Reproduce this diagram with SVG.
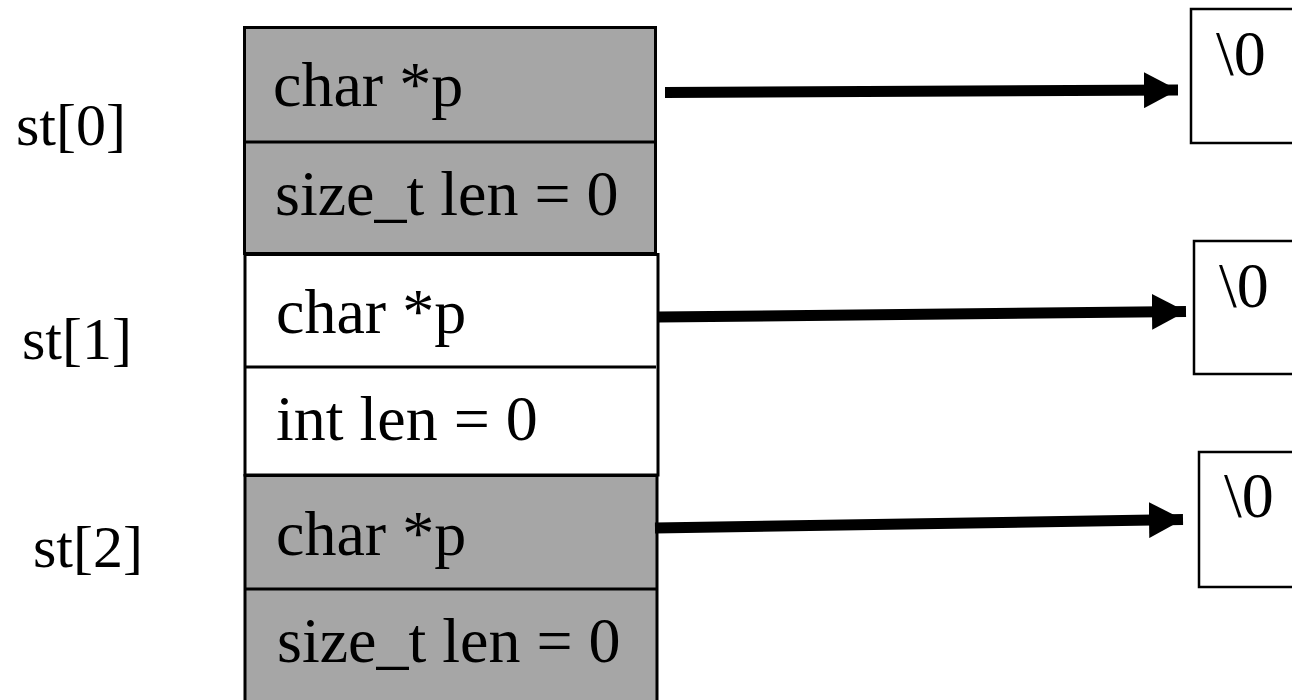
<svg xmlns="http://www.w3.org/2000/svg" width="1292" height="700" viewBox="0 0 1292 700">
<style>
.t{font-family:"Liberation Serif","Times New Roman",serif;fill:#000}
.f{font-size:64px}
.l{font-size:60px}
.g{fill:#a6a6a6;stroke:#000;stroke-width:3}
.w{fill:#fff;stroke:#000;stroke-width:3}
.d{stroke:#000;stroke-width:3;fill:none}
.b{fill:#fff;stroke:#000;stroke-width:2.5}
.a{stroke:#000;stroke-width:11;fill:none}
</style>
<defs>
<marker id="ah" markerUnits="userSpaceOnUse" markerWidth="36" markerHeight="36" refX="34" refY="17" orient="auto" viewBox="0 0 36 34" preserveAspectRatio="none">
<path d="M0,0 L34,17 L0,34 Z" fill="#000"/>
</marker>
</defs>
<rect width="1292" height="700" fill="#fff"/>
<g id="labels">
<text class="t l" x="16" y="145">st[0]</text>
<text class="t l" x="22" y="359">st[1]</text>
<text class="t l" x="33" y="567">st[2]</text>
</g>
<g id="st0">
<rect class="g" x="244.5" y="27.5" width="411" height="226"/>
<line class="d" x1="244.5" y1="142" x2="655.5" y2="142"/>
<text class="t f" x="273" y="106">char *p</text>
<text class="t f" x="275" y="215">size_t len = 0</text>
</g>
<g id="st1">
<rect class="w" x="245" y="254.5" width="413" height="220.5"/>
<line class="d" x1="245" y1="367" x2="656" y2="367"/>
<text class="t f" x="276" y="333">char *p</text>
<text class="t f" x="276" y="440">int len = 0</text>
</g>
<g id="st2">
<rect class="g" x="245" y="475.5" width="412" height="240"/>
<line class="d" x1="245" y1="589" x2="656" y2="589"/>
<text class="t f" x="276" y="555">char *p</text>
<text class="t f" x="277" y="662">size_t len = 0</text>
</g>
<g id="nul0">
<rect class="b" x="1191" y="9" width="110" height="134"/>
<text class="t f" x="1216" y="75">\0</text>
</g>
<g id="nul1">
<rect class="b" x="1194" y="241" width="110" height="133"/>
<text class="t f" x="1219" y="307">\0</text>
</g>
<g id="nul2">
<rect class="b" x="1199" y="452" width="110" height="135"/>
<text class="t f" x="1224" y="517">\0</text>
</g>
<g id="connectors">
<line class="a" x1="665" y1="92.5" x2="1178" y2="90" marker-end="url(#ah)"/>
<line class="a" x1="658" y1="317" x2="1186" y2="311.5" marker-end="url(#ah)"/>
<line class="a" x1="655" y1="528" x2="1183" y2="519.5" marker-end="url(#ah)"/>
</g>
</svg>
